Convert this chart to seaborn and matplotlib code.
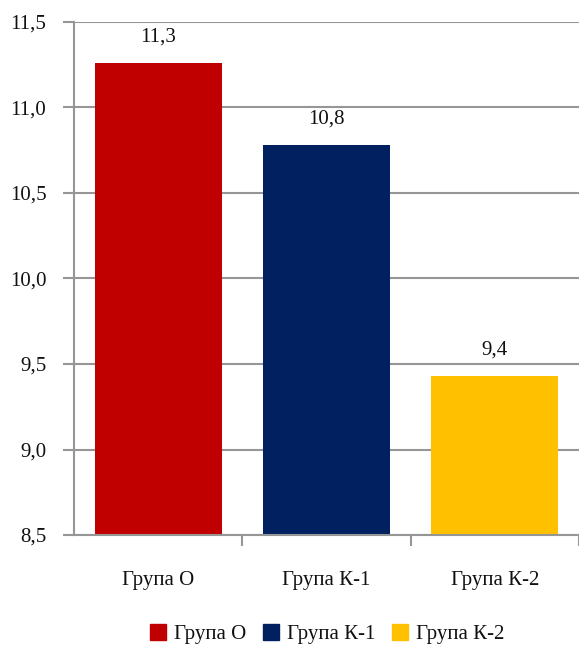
import matplotlib
matplotlib.use("Agg")
import matplotlib.pyplot as plt
import matplotlib.ticker as mticker
import seaborn as sns
import pandas as pd

groups = ["Група О", "Група К-1", "Група К-2"]
values = [11.26, 10.78, 9.43]
colors = ["#C00000", "#002060", "#FFC000"]
y_ticks = [8.5, 9.0, 9.5, 10.0, 10.5, 11.0, 11.5]

sns.set_theme(style="white")
plt.rcParams["font.family"] = ["Liberation Serif", "DejaVu Serif"]

df = pd.DataFrame({"group": groups, "value": values})

fig = plt.figure(figsize=(5.79, 6.46), dpi=100)
ax = fig.add_axes([0.128, 0.1718, 0.872, 0.7942])

sns.barplot(data=df, x="group", y="value", hue="group", palette=colors,
            width=0.755, saturation=1, dodge=False, legend=False,
            linewidth=0, ax=ax)

ax.set_ylim(8.5, 11.5)
ax.set_xlim(-0.5, 2.5)
ax.set_yticks(y_ticks)
ax.yaxis.set_major_formatter(
    mticker.FuncFormatter(lambda v, _: f"{v:.1f}".replace(".", ",")))
ax.grid(axis="y", color="#969696", linewidth=1.5, zorder=0)
ax.set_axisbelow(True)

for s in ["top", "right"]:
    ax.spines[s].set_visible(False)
for s in ["left", "bottom"]:
    ax.spines[s].set_color("#969696")
    ax.spines[s].set_linewidth(1.5)

ax.tick_params(axis="y", which="major", left=True, length=8, width=1.5,
               color="#969696", pad=12, labelsize=15, labelcolor="#111111")
ax.set_xticks([0.5, 1.5, 2.5], minor=True)
ax.tick_params(axis="x", which="minor", bottom=True, length=8, width=1.5,
               color="#969696")
ax.tick_params(axis="x", which="major", bottom=False, pad=20, labelsize=15,
               labelcolor="#111111")
ax.set_xlabel("")
ax.set_ylabel("")

for i, v in enumerate(values):
    ax.annotate(f"{v:.1f}".replace(".", ","), xy=(i, v), xytext=(0, 12),
                textcoords="offset points", ha="center", va="bottom",
                fontsize=15, color="#111111")

handles = [plt.Rectangle((0, 0), 1, 1, color=c) for c in colors]
fig.legend(handles, groups, loc="center", bbox_to_anchor=(0.565, 0.018),
           ncol=3, frameon=False, fontsize=15, handlelength=0.75,
           handleheight=0.75, handletextpad=0.4, columnspacing=0.8,
           labelcolor="#111111")

fig.savefig("out.png", dpi=100)
